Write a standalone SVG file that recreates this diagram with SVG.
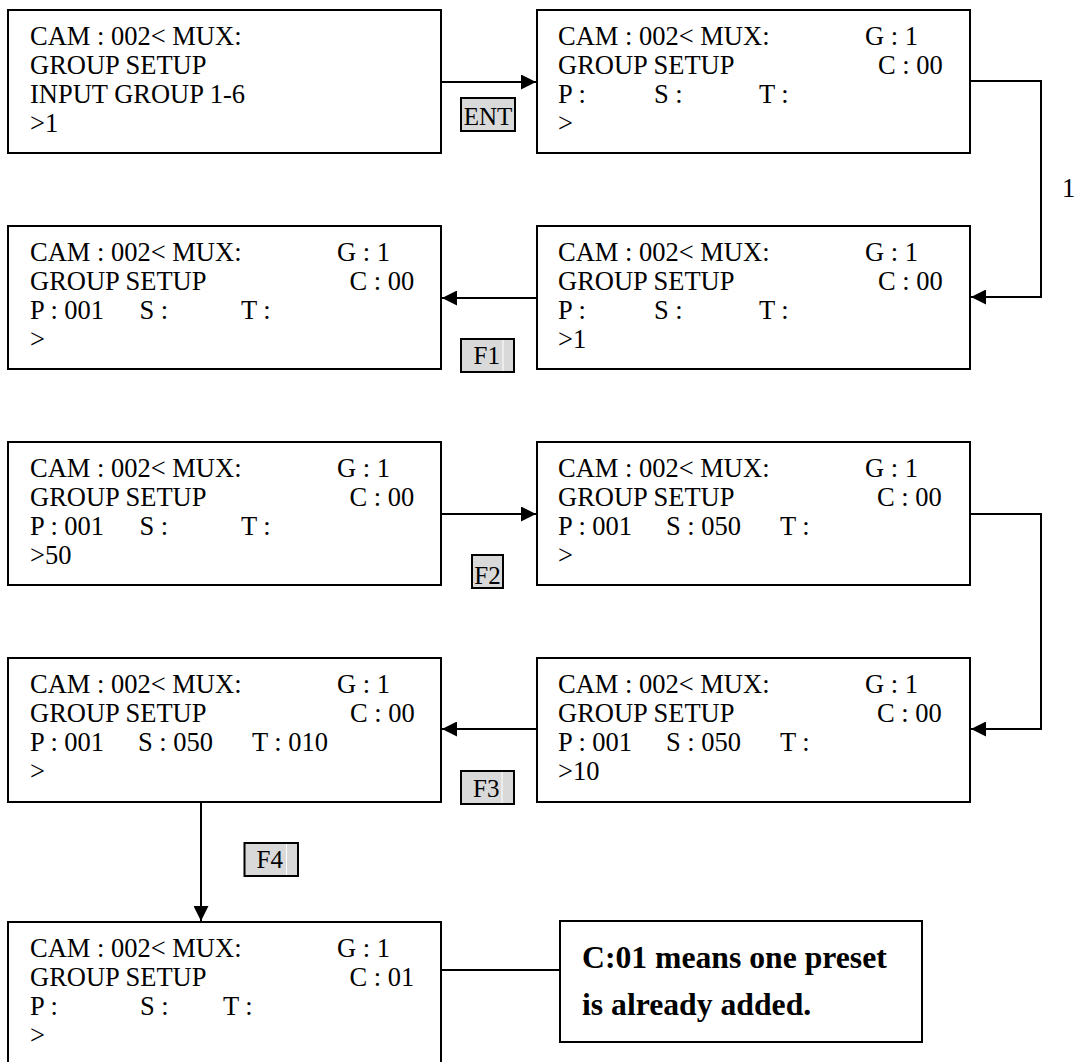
<svg xmlns="http://www.w3.org/2000/svg" width="1075" height="1062" viewBox="0 0 1075 1062">
<style>
.box{fill:#fff;stroke:#000;stroke-width:2}
.t{font-family:"Liberation Serif","Times New Roman",serif;font-size:26.5px;fill:#000}
.key{fill:#d9d9d9;stroke:#000;stroke-width:2}
.kt{font-family:"Liberation Serif","Times New Roman",serif;font-size:25px;fill:#000}
.sl{stroke:#fff;stroke-width:1}
.c{fill:none;stroke:#000;stroke-width:2}
.note{font-family:"Liberation Serif","Times New Roman",serif;font-size:31.7px;font-weight:bold;fill:#000}
</style>
<defs>
<marker id="ah" markerUnits="userSpaceOnUse" markerWidth="15" markerHeight="15" refX="15" refY="7.5" orient="auto">
<path d="M0,0 L15,7.5 L0,15 z" fill="#000"/>
</marker>
</defs>
<rect width="1075" height="1062" fill="#fff"/>

<g id="connectors">
<line class="c" x1="441" y1="82" x2="536" y2="82" marker-end="url(#ah)"/>
<polyline class="c" points="970,81 1041,81 1041,297 971,297" marker-end="url(#ah)"/>
<line class="c" x1="537" y1="298" x2="442" y2="298" marker-end="url(#ah)"/>
<line class="c" x1="441" y1="514" x2="536" y2="514" marker-end="url(#ah)"/>
<polyline class="c" points="970,514 1041,514 1041,729 971,729" marker-end="url(#ah)"/>
<line class="c" x1="537" y1="729" x2="442" y2="729" marker-end="url(#ah)"/>
<line class="c" x1="201" y1="802" x2="201" y2="921" marker-end="url(#ah)"/>
<line class="c" x1="417" y1="970" x2="560" y2="970"/>
<text class="t" x="1062" y="197">1</text>
</g>

<g id="box1">
<rect class="box" x="8" y="10" width="433" height="143"/>
<text class="t" x="30" y="45">CAM : 002&lt; MUX:</text>
<text class="t" x="30" y="74">GROUP SETUP</text>
<text class="t" x="30" y="103">INPUT GROUP 1-6</text>
<text class="t" x="30" y="132">&gt;1</text>
</g>

<g id="key-ent">
<rect class="key" x="461" y="98" width="54" height="33"/>
<text class="kt" x="488" y="125" text-anchor="middle">ENT</text>
</g>

<g id="box2">
<rect class="box" x="537" y="10" width="433" height="143"/>
<text class="t" x="558" y="45">CAM : 002&lt; MUX:</text>
<text class="t" x="865" y="45">G : 1</text>
<text class="t" x="558" y="74">GROUP SETUP</text>
<text class="t" x="878" y="74">C : 00</text>
<text class="t" x="558" y="103">P :</text>
<text class="t" x="654" y="103">S :</text>
<text class="t" x="759" y="103">T :</text>
<text class="t" x="558" y="132">&gt;</text>
</g>

<g id="box4">
<rect class="box" x="537" y="226" width="433" height="143"/>
<text class="t" x="558" y="261">CAM : 002&lt; MUX:</text>
<text class="t" x="865" y="261">G : 1</text>
<text class="t" x="558" y="290">GROUP SETUP</text>
<text class="t" x="878" y="290">C : 00</text>
<text class="t" x="558" y="319">P :</text>
<text class="t" x="654" y="319">S :</text>
<text class="t" x="759" y="319">T :</text>
<text class="t" x="558" y="348">&gt;1</text>
</g>

<g id="box3">
<rect class="box" x="8" y="226" width="433" height="143"/>
<text class="t" x="30" y="261">CAM : 002&lt; MUX:</text>
<text class="t" x="337" y="261">G : 1</text>
<text class="t" x="30" y="290">GROUP SETUP</text>
<text class="t" x="349.5" y="290">C : 00</text>
<text class="t" x="30" y="319">P : 001</text>
<text class="t" x="139.5" y="319">S :</text>
<text class="t" x="241" y="319">T :</text>
<text class="t" x="30" y="348">&gt;</text>
</g>

<g id="key-f1">
<rect class="key" x="461" y="339" width="53" height="33"/>
<text class="kt" x="473.5" y="364">F1</text>
<line class="sl" x1="503" y1="340" x2="503" y2="371"/>
</g>

<g id="box5">
<rect class="box" x="8" y="442" width="433" height="143"/>
<text class="t" x="30" y="477">CAM : 002&lt; MUX:</text>
<text class="t" x="337" y="477">G : 1</text>
<text class="t" x="30" y="506">GROUP SETUP</text>
<text class="t" x="349.5" y="506">C : 00</text>
<text class="t" x="30" y="535">P : 001</text>
<text class="t" x="139.5" y="535">S :</text>
<text class="t" x="241" y="535">T :</text>
<text class="t" x="30" y="564">&gt;50</text>
</g>

<g id="key-f2">
<rect class="key" x="472" y="555" width="31" height="33"/>
<text class="kt" x="487.5" y="584" text-anchor="middle">F2</text>
</g>

<g id="box6">
<rect class="box" x="537" y="442" width="433" height="143"/>
<text class="t" x="558" y="477">CAM : 002&lt; MUX:</text>
<text class="t" x="865" y="477">G : 1</text>
<text class="t" x="558" y="506">GROUP SETUP</text>
<text class="t" x="877" y="506">C : 00</text>
<text class="t" x="558" y="535">P : 001</text>
<text class="t" x="666" y="535">S : 050</text>
<text class="t" x="780" y="535">T :</text>
<text class="t" x="558" y="564">&gt;</text>
</g>

<g id="box8">
<rect class="box" x="537" y="658" width="433" height="144"/>
<text class="t" x="558" y="693">CAM : 002&lt; MUX:</text>
<text class="t" x="865" y="693">G : 1</text>
<text class="t" x="558" y="722">GROUP SETUP</text>
<text class="t" x="877" y="722">C : 00</text>
<text class="t" x="558" y="751">P : 001</text>
<text class="t" x="666" y="751">S : 050</text>
<text class="t" x="780" y="751">T :</text>
<text class="t" x="558" y="780">&gt;10</text>
</g>

<g id="box7">
<rect class="box" x="8" y="658" width="433" height="144"/>
<text class="t" x="30" y="693">CAM : 002&lt; MUX:</text>
<text class="t" x="337" y="693">G : 1</text>
<text class="t" x="30" y="722">GROUP SETUP</text>
<text class="t" x="350" y="722">C : 00</text>
<text class="t" x="30" y="751">P : 001</text>
<text class="t" x="138" y="751">S : 050</text>
<text class="t" x="252" y="751">T : 010</text>
<text class="t" x="30" y="780">&gt;</text>
</g>

<g id="key-f3">
<rect class="key" x="461" y="771" width="53" height="33"/>
<text class="kt" x="473" y="797">F3</text>
<line class="sl" x1="502" y1="772" x2="502" y2="803"/>
</g>

<g id="key-f4">
<rect class="key" x="244.5" y="843" width="53.5" height="33"/>
<text class="kt" x="256.5" y="868">F4</text>
<line class="sl" x1="286.5" y1="844" x2="286.5" y2="875"/>
</g>

<g id="box9">
<rect class="box" x="8" y="922" width="433" height="160"/>
<text class="t" x="30" y="957">CAM : 002&lt; MUX:</text>
<text class="t" x="337" y="957">G : 1</text>
<text class="t" x="30" y="986">GROUP SETUP</text>
<text class="t" x="349.5" y="986">C : 01</text>
<text class="t" x="30" y="1015">P :</text>
<text class="t" x="140" y="1015">S :</text>
<text class="t" x="223" y="1015">T :</text>
<text class="t" x="30" y="1044">&gt;</text>
</g>

<g id="note">
<rect class="box" x="560" y="921" width="362" height="121"/>
<text class="note" x="582" y="968">C:01 means one preset</text>
<text class="note" x="582" y="1015">is already added.</text>
</g>
</svg>
